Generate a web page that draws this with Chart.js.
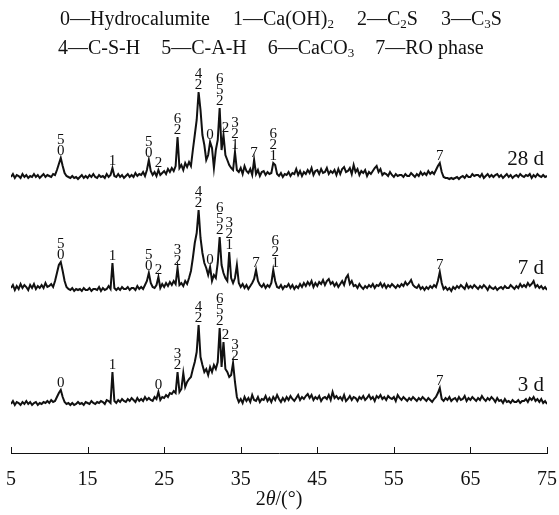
<!DOCTYPE html>
<html>
<head>
<meta charset="utf-8">
<script src="https://cdn.jsdelivr.net/npm/chart.js@4.4.0/dist/chart.umd.min.js"></script>
<style>
  body { margin: 0; background: #fff; }
  #wrap { position: relative; width: 559px; height: 515px; }
  .leg {
    position: absolute; white-space: nowrap;
    font-family: "Liberation Serif", "Times New Roman", serif;
    font-size: 20px; color: #111; line-height: 22px;
  }
  .leg sub { font-size: 13px; vertical-align: -3px; line-height: 0; }
  .gap { display: inline-block; width: 23px; }
  .gap2 { display: inline-block; width: 21px; }
</style>
</head>
<body>
<div id="wrap">
  <canvas id="xrd" width="559" height="515"></canvas>
  <div class="leg" style="top:7px;left:60px">0—Hydrocalumite<span class="gap"></span>1—Ca(OH)<sub>2</sub><span class="gap"></span>2—C<sub>2</sub>S<span class="gap"></span>3—C<sub>3</sub>S</div>
  <div class="leg" style="top:36px;left:58px">4—C-S-H<span class="gap2"></span>5—C-A-H<span class="gap2"></span>6—CaCO<sub>3</sub><span class="gap2"></span>7—RO phase</div>
</div>
<script>
// 2θ grid: 5° to 75°, step 0.25°
const angleStart = 5;
const angleStep = 0.25;

const xTicks = [5, 15, 25, 35, 45, 55, 65, 75];
const traceNames = ["28 d", "7 d", "3 d"];
const traceOffsets = [273, 160, 46];
const nameHeights = [21, 25, 22];

// intensities, one row per degree (x.00, x.25, x.50, x.75)
const int28d = [
  3,6,2,5, 4,2,6,3, 5,2,4,3, 6,3,5,2, 4,6,3,5,
  4,3,6,5, 10,16,22,14, 7,4,3,2, 4,2,3,1, 3,5,2,4,
  2,5,3,6, 3,2,5,3, 4,2,6,3, 5,12,4,3, 6,3,5,2,
  4,6,3,5, 3,7,4,6, 5,8,4,10, 20,9,5,8, 4,10,5,7,
  9,6,11,8, 12,9,14,43, 12,15,10,17, 13,18,14,30, 45,60,88,70,
  45,35,20,25, 38,32,12,30, 40,72,30,45, 25,20,15,12, 10,28,10,8,
  12,6,14,9, 7,11,5,20, 6,10,4,8, 9,5,8,6, 7,17,15,6,
  4,7,3,6, 5,8,4,7, 6,11,5,9, 4,8,6,10, 7,12,5,9,
  10,6,11,7, 8,12,6,9, 7,10,5,11, 6,11,13,8, 9,12,6,15,
  8,11,5,9, 7,10,4,8, 6,9,12,14, 8,11,5,7, 6,4,8,5,
  3,6,4,5, 5,3,6,4, 4,7,5,3, 6,4,8,5, 7,5,9,6,
  8,6,10,14, 17,8,3,2, 2,1,2,1, 2,3,1,3, 4,2,5,3,
  3,6,4,5, 5,3,6,2, 4,6,3,5, 3,5,6,3, 5,2,4,6,
  3,5,2,4, 5,3,6,4, 3,5,4,6, 2,5,3,6, 4,3,5,3,
  4
];
const int7d = [
  5,8,3,7, 4,9,5,8, 6,3,8,5, 9,4,7,5, 8,5,10,6,
  7,9,6,12, 20,28,31,22, 12,6,4,3, 5,2,4,3, 4,2,5,3,
  3,5,2,4, 4,3,6,2, 5,3,4,7, 4,30,5,3, 5,3,6,4,
  4,6,3,5, 5,3,7,4, 6,4,8,12, 20,10,6,5, 8,16,5,9,
  6,10,7,11, 8,12,9,25, 8,10,7,12, 9,15,22,35, 50,60,83,55,
  40,30,25,18, 26,12,18,15, 30,56,28,20, 15,12,41,15, 10,15,28,10,
  6,9,5,8, 4,7,10,14, 23,12,8,6, 9,5,8,6, 10,23,12,6,
  5,8,4,7, 6,9,5,8, 4,7,5,9, 6,10,7,11, 8,12,6,10,
  7,11,9,13, 8,12,14,9, 11,7,10,6, 9,12,8,15, 18,9,12,7,
  8,5,9,6, 4,7,5,8, 6,9,5,8, 7,10,6,9, 5,8,6,9,
  7,5,8,6, 9,7,11,8, 10,13,8,6, 5,8,4,6, 3,6,4,7,
  5,8,6,12, 21,10,4,6, 3,5,2,6, 4,7,5,8, 6,4,9,5,
  7,5,8,6, 4,7,5,8, 6,3,7,5, 4,6,3,5, 6,4,7,5,
  5,8,6,4, 7,5,9,6, 8,6,10,7, 9,12,6,8, 5,7,4,6,
  3
];
const int3d = [
  3,6,2,5, 4,2,5,3, 6,3,5,2, 4,5,2,4, 3,5,4,6,
  4,7,5,6, 10,14,17,10, 5,3,4,2, 4,2,3,5, 3,4,2,5,
  4,3,6,4, 3,5,4,6, 5,3,7,6, 4,35,6,4, 7,5,8,6,
  5,8,6,9, 7,5,9,6, 8,6,10,7, 9,7,6,10, 8,15,7,10,
  9,12,10,14, 13,16,14,35, 15,18,34,20, 25,28,30,38, 45,55,82,50,
  42,35,38,32, 40,35,42,38, 45,79,40,65, 38,35,30,32, 44,25,10,5,
  8,4,10,6, 9,5,12,7, 6,10,5,8, 7,11,6,9, 5,10,7,12,
  8,5,9,6, 10,7,11,8, 6,9,12,7, 10,8,11,13, 9,12,7,10,
  8,11,6,9, 10,8,12,7, 15,9,11,8, 10,7,12,6, 8,11,7,10,
  9,6,10,8, 11,7,9,12, 8,10,6,11, 9,12,8,10, 7,11,9,8,
  10,6,12,9, 7,10,8,6, 9,7,10,8, 6,9,7,10, 8,6,9,7,
  5,8,10,14, 19,8,6,9, 7,10,6,8, 9,6,10,7, 8,11,6,9,
  7,10,8,6, 9,7,11,8, 6,9,7,10, 8,5,9,6, 7,4,8,5,
  6,4,7,5, 5,7,4,6, 6,8,5,9, 7,10,6,8, 5,8,4,6,
  3
];
const intensities = [int28d, int7d, int3d];

// peak labels: [2θ, lines from top to bottom]
const peaks28d = [
  [11.5, ["5", "0"]], [18.25, ["1"]], [23, ["5", "0"]], [24.25, ["2"]],
  [26.75, ["6", "2"]], [29.5, ["4", "2"]], [31, ["0"]], [32.25, ["6", "5", "2"]],
  [33, ["2"]], [34.25, ["3", "2", "1"]], [36.75, ["7"]], [39.25, ["6", "2", "1"]], [61, ["7"]]
];
const peaks7d = [
  [11.5, ["5", "0"]], [18.25, ["1"]], [23, ["5", "0"]], [24.25, ["2"]],
  [26.75, ["3", "2"]], [29.5, ["4", "2"]], [31, ["0"]], [32.25, ["6", "5", "2"]],
  [33.5, ["3", "2", "1"]], [37, ["7"]], [39.5, ["6", "2", "1"]], [61, ["7"]]
];
const peaks3d = [
  [11.5, ["0"]], [18.25, ["1"]], [24.25, ["0"]], [26.75, ["3", "2"]],
  [29.5, ["4", "2"]], [32.25, ["6", "5", "2"]], [33, ["2"]], [34.25, ["3", "2"]], [61, ["7"]]
];
const peakLabels = [peaks28d, peaks7d, peaks3d];

const serif = '"Liberation Serif", "Times New Roman", serif';

const datasets = intensities.map((arr, i) => ({
  label: traceNames[i],
  data: arr.map((v, k) => ({ x: angleStart + k * angleStep, y: v + traceOffsets[i] })),
  borderColor: "#111",
  borderWidth: 2,
  pointRadius: 0,
  tension: 0,
  fill: false
}));

const xrdDecor = {
  id: "xrdDecor",
  afterDatasetsDraw(chart) {
    const { ctx, chartArea, scales: { x, y } } = chart;
    ctx.save();
    ctx.fillStyle = "#111";
    ctx.strokeStyle = "#111";

    // tick marks pointing up into the plot
    ctx.lineWidth = 1;
    xTicks.forEach(v => {
      const px = Math.round(x.getPixelForValue(v)) + 0.5;
      ctx.beginPath();
      ctx.moveTo(px, chartArea.bottom);
      ctx.lineTo(px, chartArea.bottom - 6);
      ctx.stroke();
    });

    // peak labels, stacked above the highest point near each label
    ctx.font = "15px " + serif;
    ctx.textAlign = "center";
    ctx.textBaseline = "alphabetic";
    peakLabels.forEach((list, i) => {
      const arr = intensities[i];
      list.forEach(([ang, lines]) => {
        let top = 0;
        arr.forEach((v, k) => {
          const a = angleStart + k * angleStep;
          if (Math.abs(a - ang) <= 0.3 && v > top) top = v;
        });
        const px = x.getPixelForValue(ang);
        let py = y.getPixelForValue(top + traceOffsets[i]) - 3;
        for (let j = lines.length - 1; j >= 0; j--) {
          ctx.fillText(lines[j], px, py);
          py -= 11;
        }
      });
    });

    // curve names
    ctx.font = "21px " + serif;
    ctx.textAlign = "right";
    ctx.textBaseline = "middle";
    traceNames.forEach((name, i) => {
      ctx.fillText(name, x.getPixelForValue(74.6), y.getPixelForValue(traceOffsets[i] + nameHeights[i]));
    });

    // axis title 2θ/(°)
    ctx.textBaseline = "middle";
    ctx.textAlign = "left";
    const parts = [["2", "20px " + serif], ["θ", "italic 20px " + serif], ["/(°)", "20px " + serif]];
    let w = 0;
    parts.forEach(p => { ctx.font = p[1]; w += ctx.measureText(p[0]).width; });
    let tx = (chartArea.left + chartArea.right) / 2 - w / 2;
    parts.forEach(p => {
      ctx.font = p[1];
      ctx.fillText(p[0], tx, 500);
      tx += ctx.measureText(p[0]).width;
    });
    ctx.restore();
  }
};

new Chart(document.getElementById("xrd"), {
  type: "line",
  data: { datasets },
  options: {
    responsive: false,
    animation: false,
    events: [],
    layout: { padding: { top: 73, left: 11, right: 12, bottom: 0 } },
    plugins: { legend: { display: false }, tooltip: { enabled: false } },
    scales: {
      x: {
        type: "linear",
        min: 5,
        max: 75,
        afterBuildTicks: axis => { axis.ticks = xTicks.map(v => ({ value: v })); },
        afterFit: axis => {
          axis.height = 62;
          axis.paddingLeft = 0;
          axis.paddingRight = 0;
        },
        grid: { display: true, drawOnChartArea: false, drawTicks: false },
        border: { display: true, color: "#111", width: 1 },
        ticks: { color: "#111", padding: 15, maxRotation: 0, font: { family: serif, size: 20 } }
      },
      y: { display: false, min: 0, max: 380 }
    }
  },
  plugins: [xrdDecor]
});
</script>
</body>
</html>
